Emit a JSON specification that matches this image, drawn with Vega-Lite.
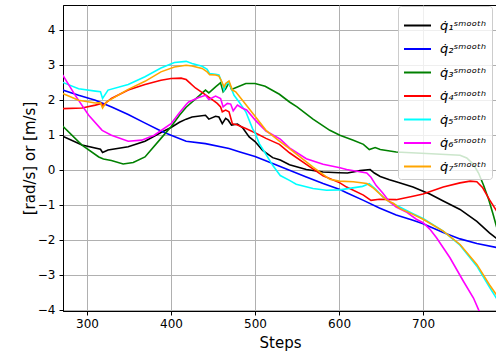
{
  "$schema": "https://vega.github.io/schema/vega-lite/v6.json",
  "width": 434,
  "height": 306,
  "autosize": {"type": "none"},
  "padding": {"left": 63, "top": 5, "right": 0, "bottom": 43},
  "data": {
    "values": [
      {"s":"q1","x":271,"y":0.95},{"s":"q1","x":294,"y":0.70},{"s":"q1","x":316,"y":0.58},{"s":"q1","x":318.5,"y":0.49},{"s":"q1","x":325,"y":0.56},{"s":"q1","x":349,"y":0.65},{"s":"q1","x":369,"y":0.81},{"s":"q1","x":388,"y":1.06},{"s":"q1","x":400,"y":1.2},{"s":"q1","x":410,"y":1.35},{"s":"q1","x":418,"y":1.44},{"s":"q1","x":425,"y":1.50},{"s":"q1","x":441,"y":1.55},{"s":"q1","x":445,"y":1.44},{"s":"q1","x":453,"y":1.52},{"s":"q1","x":457,"y":1.50},{"s":"q1","x":461,"y":1.31},{"s":"q1","x":465,"y":1.46},{"s":"q1","x":468,"y":1.41},{"s":"q1","x":472,"y":1.27},{"s":"q1","x":479,"y":1.30},{"s":"q1","x":485,"y":1.2},{"s":"q1","x":493,"y":0.93},{"s":"q1","x":500,"y":0.80},{"s":"q1","x":509,"y":0.55},{"s":"q1","x":521,"y":0.34},{"s":"q1","x":530,"y":0.27},{"s":"q1","x":541,"y":0.14},{"s":"q1","x":561,"y":0.0},{"s":"q1","x":581,"y":-0.07},{"s":"q1","x":600,"y":-0.09},{"s":"q1","x":610,"y":-0.1},{"s":"q1","x":625,"y":-0.03},{"s":"q1","x":637,"y":0.0},{"s":"q1","x":642,"y":-0.1},{"s":"q1","x":649,"y":-0.2},{"s":"q1","x":660,"y":-0.29},{"s":"q1","x":668,"y":-0.35},{"s":"q1","x":688,"y":-0.5},{"s":"q1","x":700,"y":-0.62},{"s":"q1","x":708,"y":-0.7},{"s":"q1","x":724,"y":-0.9},{"s":"q1","x":744,"y":-1.14},{"s":"q1","x":764,"y":-1.48},{"s":"q1","x":779,"y":-1.81},{"s":"q1","x":788,"y":-1.98},

      {"s":"q2","x":271,"y":2.27},{"s":"q2","x":290,"y":2.12},{"s":"q2","x":310,"y":1.98},{"s":"q2","x":330,"y":1.78},{"s":"q2","x":349,"y":1.57},{"s":"q2","x":368,"y":1.34},{"s":"q2","x":388,"y":1.10},{"s":"q2","x":400,"y":0.98},{"s":"q2","x":418,"y":0.81},{"s":"q2","x":441,"y":0.74},{"s":"q2","x":469,"y":0.6},{"s":"q2","x":482,"y":0.5},{"s":"q2","x":500,"y":0.37},{"s":"q2","x":521,"y":0.17},{"s":"q2","x":541,"y":-0.02},{"s":"q2","x":561,"y":-0.21},{"s":"q2","x":581,"y":-0.4},{"s":"q2","x":601,"y":-0.57},{"s":"q2","x":609,"y":-0.66},{"s":"q2","x":629,"y":-0.88},{"s":"q2","x":648,"y":-1.1},{"s":"q2","x":668,"y":-1.30},{"s":"q2","x":688,"y":-1.45},{"s":"q2","x":700,"y":-1.55},{"s":"q2","x":724,"y":-1.8},{"s":"q2","x":744,"y":-1.98},{"s":"q2","x":764,"y":-2.11},{"s":"q2","x":788,"y":-2.23},

      {"s":"q3","x":271,"y":1.24},{"s":"q3","x":294,"y":0.70},{"s":"q3","x":314,"y":0.36},{"s":"q3","x":319.5,"y":0.30},{"s":"q3","x":329,"y":0.26},{"s":"q3","x":343,"y":0.16},{"s":"q3","x":355,"y":0.20},{"s":"q3","x":369,"y":0.36},{"s":"q3","x":388,"y":0.89},{"s":"q3","x":400,"y":1.22},{"s":"q3","x":410,"y":1.55},{"s":"q3","x":418,"y":1.78},{"s":"q3","x":433,"y":2.10},{"s":"q3","x":441,"y":2.27},{"s":"q3","x":445,"y":2.19},{"s":"q3","x":453,"y":2.36},{"s":"q3","x":459,"y":2.48},{"s":"q3","x":462,"y":2.22},{"s":"q3","x":465,"y":2.31},{"s":"q3","x":469,"y":2.48},{"s":"q3","x":472,"y":2.29},{"s":"q3","x":479,"y":2.36},{"s":"q3","x":489,"y":2.46},{"s":"q3","x":500,"y":2.46},{"s":"q3","x":512,"y":2.38},{"s":"q3","x":529,"y":2.15},{"s":"q3","x":541,"y":1.93},{"s":"q3","x":550,"y":1.79},{"s":"q3","x":569,"y":1.44},{"s":"q3","x":589,"y":1.12},{"s":"q3","x":601,"y":0.98},{"s":"q3","x":617,"y":0.84},{"s":"q3","x":629,"y":0.72},{"s":"q3","x":636,"y":0.57},{"s":"q3","x":643,"y":0.63},{"s":"q3","x":649,"y":0.57},{"s":"q3","x":668,"y":0.50},{"s":"q3","x":704,"y":0.46},{"s":"q3","x":744,"y":0.41},{"s":"q3","x":752,"y":0.33},{"s":"q3","x":760,"y":0.15},{"s":"q3","x":766,"y":-0.1},{"s":"q3","x":772,"y":-0.45},{"s":"q3","x":778,"y":-0.85},{"s":"q3","x":783,"y":-1.25},{"s":"q3","x":788,"y":-1.68},

      {"s":"q4","x":271,"y":1.74},{"s":"q4","x":294,"y":1.76},{"s":"q4","x":310,"y":1.84},{"s":"q4","x":317,"y":1.89},{"s":"q4","x":319,"y":1.82},{"s":"q4","x":322,"y":1.90},{"s":"q4","x":329,"y":2.03},{"s":"q4","x":349,"y":2.27},{"s":"q4","x":369,"y":2.43},{"s":"q4","x":388,"y":2.55},{"s":"q4","x":400,"y":2.60},{"s":"q4","x":412,"y":2.61},{"s":"q4","x":418,"y":2.57},{"s":"q4","x":429,"y":2.33},{"s":"q4","x":439,"y":2.17},{"s":"q4","x":449,"y":2.0},{"s":"q4","x":455,"y":1.89},{"s":"q4","x":459,"y":1.79},{"s":"q4","x":461,"y":1.65},{"s":"q4","x":465,"y":1.70},{"s":"q4","x":469,"y":1.65},{"s":"q4","x":473,"y":1.31},{"s":"q4","x":479,"y":1.27},{"s":"q4","x":489,"y":1.17},{"s":"q4","x":500,"y":1.05},{"s":"q4","x":513,"y":0.89},{"s":"q4","x":529,"y":0.72},{"s":"q4","x":541,"y":0.48},{"s":"q4","x":561,"y":0.15},{"s":"q4","x":581,"y":-0.18},{"s":"q4","x":601,"y":-0.38},{"s":"q4","x":609,"y":-0.5},{"s":"q4","x":629,"y":-0.73},{"s":"q4","x":638,"y":-0.88},{"s":"q4","x":648,"y":-0.85},{"s":"q4","x":668,"y":-0.86},{"s":"q4","x":688,"y":-0.76},{"s":"q4","x":700,"y":-0.70},{"s":"q4","x":724,"y":-0.5},{"s":"q4","x":744,"y":-0.38},{"s":"q4","x":756,"y":-0.33},{"s":"q4","x":764,"y":-0.35},{"s":"q4","x":771,"y":-0.52},{"s":"q4","x":779,"y":-0.86},{"s":"q4","x":788,"y":-1.2},

      {"s":"q5","x":271,"y":2.49},{"s":"q5","x":290,"y":2.31},{"s":"q5","x":310,"y":2.24},{"s":"q5","x":316,"y":2.22},{"s":"q5","x":318.5,"y":2.03},{"s":"q5","x":325,"y":2.27},{"s":"q5","x":349,"y":2.43},{"s":"q5","x":369,"y":2.65},{"s":"q5","x":388,"y":2.90},{"s":"q5","x":404,"y":3.06},{"s":"q5","x":418,"y":3.09},{"s":"q5","x":425,"y":3.03},{"s":"q5","x":437,"y":2.95},{"s":"q5","x":443,"y":2.86},{"s":"q5","x":446,"y":2.74},{"s":"q5","x":453,"y":2.72},{"s":"q5","x":457,"y":2.70},{"s":"q5","x":461,"y":2.46},{"s":"q5","x":463,"y":2.27},{"s":"q5","x":465,"y":2.41},{"s":"q5","x":468,"y":2.5},{"s":"q5","x":471,"y":2.36},{"s":"q5","x":475,"y":2.12},{"s":"q5","x":481,"y":1.93},{"s":"q5","x":489,"y":1.65},{"s":"q5","x":497,"y":1.17},{"s":"q5","x":500,"y":1.05},{"s":"q5","x":505,"y":0.74},{"s":"q5","x":510,"y":0.55},{"s":"q5","x":521,"y":0.12},{"s":"q5","x":530,"y":-0.17},{"s":"q5","x":541,"y":-0.31},{"s":"q5","x":549,"y":-0.42},{"s":"q5","x":569,"y":-0.54},{"s":"q5","x":585,"y":-0.59},{"s":"q5","x":601,"y":-0.58},{"s":"q5","x":628,"y":-0.48},{"s":"q5","x":636,"y":-0.40},{"s":"q5","x":644,"y":-0.57},{"s":"q5","x":652,"y":-0.78},{"s":"q5","x":660,"y":-0.92},{"s":"q5","x":668,"y":-1.02},{"s":"q5","x":688,"y":-1.26},{"s":"q5","x":700,"y":-1.40},{"s":"q5","x":724,"y":-1.76},{"s":"q5","x":744,"y":-2.16},{"s":"q5","x":764,"y":-2.76},{"s":"q5","x":779,"y":-3.36},{"s":"q5","x":788,"y":-3.7},

      {"s":"q6","x":271,"y":2.70},{"s":"q6","x":286,"y":2.12},{"s":"q6","x":302,"y":1.55},{"s":"q6","x":318,"y":1.12},{"s":"q6","x":329,"y":0.98},{"s":"q6","x":349,"y":0.81},{"s":"q6","x":365,"y":0.84},{"s":"q6","x":380,"y":0.98},{"s":"q6","x":400,"y":1.31},{"s":"q6","x":410,"y":1.62},{"s":"q6","x":418,"y":1.86},{"s":"q6","x":421,"y":1.93},{"s":"q6","x":433,"y":2.06},{"s":"q6","x":441,"y":2.12},{"s":"q6","x":445,"y":2.0},{"s":"q6","x":453,"y":2.1},{"s":"q6","x":459,"y":2.03},{"s":"q6","x":462,"y":1.79},{"s":"q6","x":467,"y":1.89},{"s":"q6","x":471,"y":1.87},{"s":"q6","x":474,"y":1.68},{"s":"q6","x":479,"y":1.84},{"s":"q6","x":485,"y":1.75},{"s":"q6","x":490,"y":1.70},{"s":"q6","x":500,"y":1.42},{"s":"q6","x":513,"y":1.1},{"s":"q6","x":530,"y":0.87},{"s":"q6","x":541,"y":0.62},{"s":"q6","x":561,"y":0.31},{"s":"q6","x":581,"y":0.15},{"s":"q6","x":601,"y":0.05},{"s":"q6","x":609,"y":0.0},{"s":"q6","x":621,"y":-0.05},{"s":"q6","x":633,"y":-0.1},{"s":"q6","x":638,"y":-0.22},{"s":"q6","x":644,"y":-0.45},{"s":"q6","x":652,"y":-0.67},{"s":"q6","x":660,"y":-0.92},{"s":"q6","x":668,"y":-1.07},{"s":"q6","x":680,"y":-1.21},{"s":"q6","x":692,"y":-1.42},{"s":"q6","x":700,"y":-1.52},{"s":"q6","x":708,"y":-1.7},{"s":"q6","x":716,"y":-1.95},{"s":"q6","x":732,"y":-2.52},{"s":"q6","x":748,"y":-3.19},{"s":"q6","x":760,"y":-3.67},{"s":"q6","x":766,"y":-4.0},{"s":"q6","x":772,"y":-4.3},

      {"s":"q7","x":271,"y":2.17},{"s":"q7","x":290,"y":1.98},{"s":"q7","x":310,"y":1.90},{"s":"q7","x":316,"y":1.91},{"s":"q7","x":318.5,"y":1.76},{"s":"q7","x":323,"y":1.93},{"s":"q7","x":349,"y":2.29},{"s":"q7","x":369,"y":2.52},{"s":"q7","x":388,"y":2.79},{"s":"q7","x":404,"y":2.93},{"s":"q7","x":418,"y":2.98},{"s":"q7","x":425,"y":2.96},{"s":"q7","x":437,"y":2.89},{"s":"q7","x":443,"y":2.79},{"s":"q7","x":446,"y":2.71},{"s":"q7","x":453,"y":2.70},{"s":"q7","x":457,"y":2.67},{"s":"q7","x":460,"y":2.53},{"s":"q7","x":463,"y":2.36},{"s":"q7","x":465,"y":2.46},{"s":"q7","x":469,"y":2.53},{"s":"q7","x":473,"y":2.27},{"s":"q7","x":477,"y":2.22},{"s":"q7","x":485,"y":1.98},{"s":"q7","x":500,"y":1.52},{"s":"q7","x":513,"y":1.12},{"s":"q7","x":529,"y":0.81},{"s":"q7","x":541,"y":0.6},{"s":"q7","x":569,"y":0.07},{"s":"q7","x":589,"y":-0.28},{"s":"q7","x":600,"y":-0.33},{"s":"q7","x":617,"y":-0.35},{"s":"q7","x":633,"y":-0.4},{"s":"q7","x":641,"y":-0.53},{"s":"q7","x":657,"y":-0.88},{"s":"q7","x":665,"y":-0.97},{"s":"q7","x":672,"y":-1.11},{"s":"q7","x":688,"y":-1.28},{"s":"q7","x":700,"y":-1.42},{"s":"q7","x":724,"y":-1.76},{"s":"q7","x":744,"y":-2.14},{"s":"q7","x":764,"y":-2.71},{"s":"q7","x":779,"y":-3.29},{"s":"q7","x":788,"y":-3.6}
    ]
  },
  "mark": {"type": "line", "strokeWidth": 1.6, "clip": true},
  "encoding": {
    "x": {
      "field": "x", "type": "quantitative",
      "scale": {"domain": [271.4, 788], "nice": false, "zero": false},
      "axis": {"title": "Steps", "values": [300, 400, 500, 600, 700], "labelPadding": 3, "titlePadding": 6}
    },
    "y": {
      "field": "y", "type": "quantitative",
      "scale": {"domain": [-4.04, 4.7], "nice": false, "zero": false},
      "axis": {"title": "[rad/s] or [m/s]", "values": [-4, -3, -2, -1, 0, 1, 2, 3, 4], "labelPadding": 4, "titlePadding": 0}
    },
    "color": {
      "field": "s", "type": "nominal",
      "scale": {
        "domain": ["q1", "q2", "q3", "q4", "q5", "q6", "q7"],
        "range": ["#000000", "#0000ff", "#008000", "#ff0000", "#00ffff", "#ff00ff", "#ffa500"]
      },
      "legend": {
        "title": null,
        "orient": "none",
        "legendX": 335,
        "legendY": 1,
        "fillColor": "rgba(255,255,255,0.8)",
        "strokeColor": "#cccccc",
        "cornerRadius": 3,
        "padding": 5,
        "symbolType": "stroke",
        "symbolSize": 729,
        "symbolStrokeWidth": 2,
        "labelFontSize": 13,
        "labelFontStyle": "italic",
        "labelColor": "#000000",
        "labelOffset": 8,
        "rowPadding": 1.5,
        "labelExpr": "'q\u0307' + ['\u2081','\u2082','\u2083','\u2084','\u2085','\u2086','\u2087'][toNumber(slice(datum.label, 1)) - 1] + '\u02e2\u1d50\u1d52\u1d52\u1d57\u02b0'"
      }
    }
  },
  "config": {
    "font": "DejaVu Sans",
    "view": {"stroke": "#000000", "strokeWidth": 1},
    "axis": {
      "grid": true,
      "gridColor": "#b0b0b0",
      "gridWidth": 1,
      "domainColor": "#000000",
      "tickColor": "#000000",
      "tickSize": 4,
      "labelFontSize": 12,
      "labelColor": "#000000",
      "titleFontSize": 15,
      "titleFontWeight": "normal",
      "titleColor": "#000000"
    }
  }
}
